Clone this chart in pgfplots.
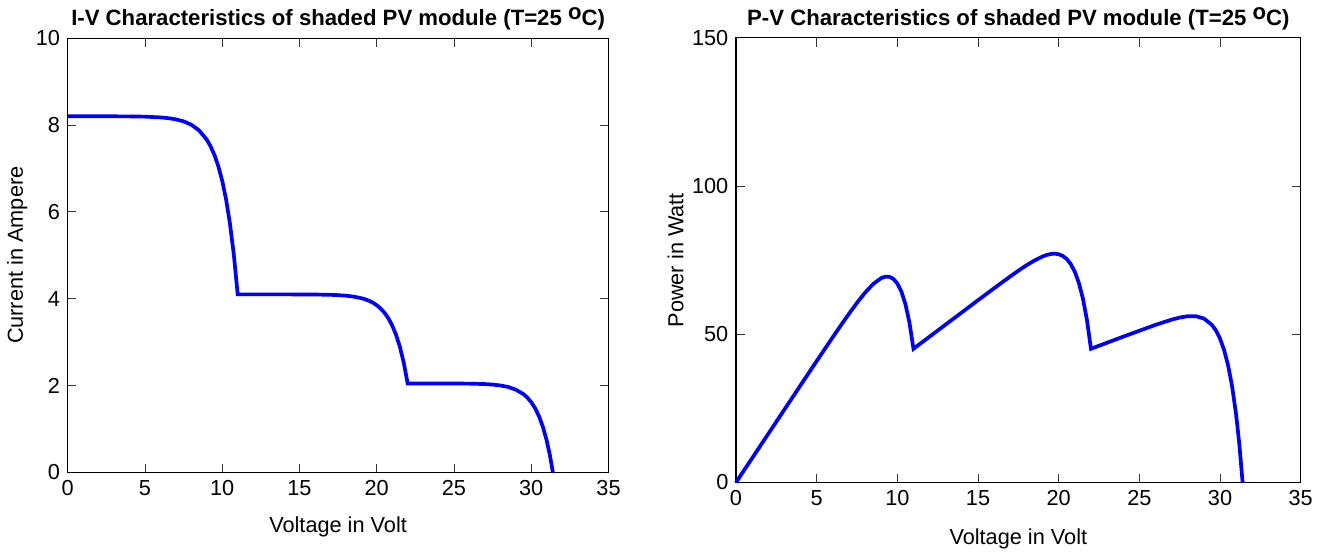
\documentclass[border=0pt]{standalone}
\usepackage{fontspec}
\setmainfont{Liberation Sans}
\usepackage{pgfplots}
\pgfplotsset{compat=1.18}
\pgfplotstableread{
V I
0 8.2
2 8.2
4 8.197
5 8.191
6 8.174
6.5 8.157
7 8.129
7.5 8.083
8 8.005
8.5 7.876
9 7.662
9.25 7.506
9.5 7.306
9.75 7.047
10 6.714
10.25 6.285
10.5 5.732
10.75 5.019
11 4.1
13 4.1
15 4.0987
16 4.0963
17 4.0894
17.5 4.082
18 4.0696
18.5 4.0485
19 4.0129
19.25 3.9866
19.5 3.9525
19.75 3.908
20 3.850
20.25 3.775
20.5 3.677
20.75 3.550
21 3.385
21.25 3.169
21.5 2.889
21.75 2.524
22 2.05
24 2.0494
26 2.0449
27 2.0346
27.5 2.0231
28 2.0031
28.5 1.9682
29 1.9076
29.5 1.8017
29.75 1.7222
30 1.6173
30.25 1.4787
30.5 1.2958
30.75 1.0543
31 0.7355
31.2 0.4085
31.4 0
}\ivdata
\pgfplotstableread{
V P
0 0
2 16.4
4 32.79
5 40.96
6 49.04
6.5 53.02
7 56.90
7.5 60.62
8 64.04
8.5 66.95
9 68.96
9.25 69.43
9.5 69.41
9.75 68.71
10 67.14
10.25 64.42
10.5 60.19
10.75 53.95
11 45.1
13 53.3
15 61.48
16 65.54
17 69.52
17.5 71.44
18 73.25
18.5 74.90
19 76.25
19.25 76.74
19.5 77.07
19.75 77.18
20 77.00
20.25 76.44
20.5 75.38
20.75 73.66
21 71.09
21.25 67.34
21.5 62.11
21.75 54.90
22 45.1
24 49.19
26 53.17
27 54.93
27.5 55.64
28 56.09
28.5 56.09
29 55.32
29.5 53.15
29.75 51.24
30 48.52
30.25 44.73
30.5 39.52
30.75 32.42
31 22.80
31.2 12.75
31.4 0
}\pvdata
\pgfplotsset{
  mlstyle/.style={
    scale only axis,
    axis line style={black, line width=0.5pt},
    tick style={black!80, line width=0.4pt},
    tick align=inside,
    major tick length=4pt,
    xmin=0, xmax=35, xtick={0,5,...,35},
    /pgf/number format/assume math mode=true,
    tick label style={font=\fontsize{10}{12}\selectfont},
    label style={font=\fontsize{10}{12}\selectfont},
    xlabel style={yshift=-3pt},
    ylabel style={yshift=-3pt},
    title style={font=\bfseries\fontsize{10.2}{12}\selectfont, yshift=-6pt},
    clip=false,
  }
}
\newcommand{\degC}{\raisebox{0.55ex}{o}C}
\begin{document}
\begin{tikzpicture}
\begin{axis}[mlstyle,
  at={(0pt,0pt)}, anchor=south west,
  width=249pt, height=200pt,
  ymin=0, ymax=10, ytick={0,2,...,10},
  xlabel={Voltage in Volt}, ylabel={Current in Ampere},
  title={I-V Characteristics of shaded PV module (T=25 \degC)},
]
\addplot[blue, line width=1.7pt] table[x=V, y=I] {\ivdata};
\end{axis}
\begin{axis}[mlstyle,
  at={(307.7pt,-4.6pt)}, anchor=south west,
  width=260pt, height=204.7pt,
  ymin=0, ymax=150, ytick={0,50,100,150},
  xlabel={Voltage in Volt}, ylabel={Power in Watt},
  xlabel style={yshift=-1pt},
  title={P-V Characteristics of shaded PV module (T=25 \degC)},
]
\addplot[blue, line width=1.7pt] table[x=V, y=P] {\pvdata};
\end{axis}
\end{tikzpicture}
\end{document}
